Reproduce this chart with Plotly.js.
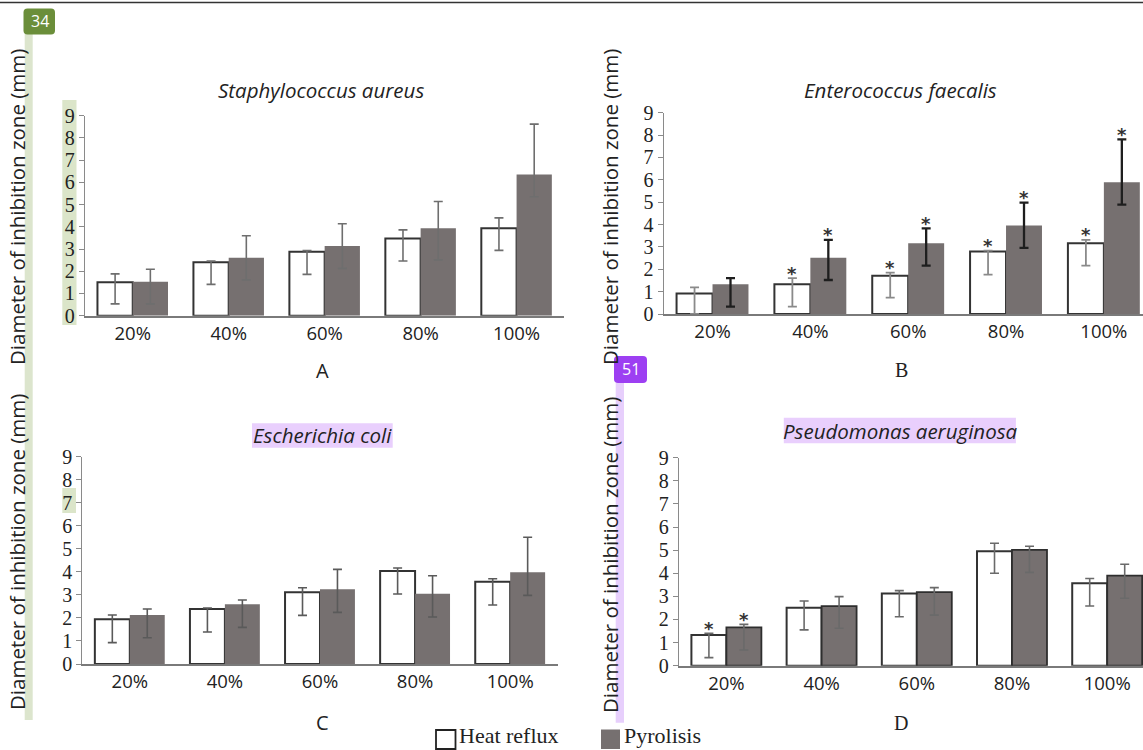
<!DOCTYPE html>
<html>
<head>
<meta charset="utf-8">
<script src="https://cdn.plot.ly/plotly-3.0.1.min.js"></script>
<style>html,body{margin:0;padding:0;background:#fff;}#chart{width:1143px;height:750px;}</style>
</head>
<body>
<div id="chart"></div>
<script>
// ---------- DATA ----------
const categories = ['20%', '40%', '60%', '80%', '100%'];
const seriesNames = ['Heat reflux', 'Pyrolisis'];
const panelTitles = ['Staphylococcus aureus', 'Enterococcus faecalis', 'Escherichia coli', 'Pseudomonas aeruginosa'];
const panelLetters = ['A', 'B', 'C', 'D'];
const yTitle = 'Diameter of inhibition zone (mm)';
const yTickVals = [0, 1, 2, 3, 4, 5, 6, 7, 8, 9];

// A: Staphylococcus aureus
const saHeat = [1.50, 2.40, 2.88, 3.47, 3.93];
const saHeatUp = [0.38, 0.06, 0.05, 0.39, 0.47];
const saHeatLow = [0.97, 0.99, 1.02, 1.01, 0.99];
const saPyro = [1.53, 2.61, 3.14, 3.93, 6.35];
const saPyroUp = [0.56, 0.99, 1.00, 1.21, 2.27];
const saPyroLow = [1.00, 1.00, 1.01, 1.42, 1.00];

// B: Enterococcus faecalis
const efHeat = [0.92, 1.33, 1.71, 2.79, 3.16];
const efHeatUp = [0.27, 0.27, 0.14, 0.04, 0.15];
const efHeatLow = [0.92, 1.00, 0.98, 1.03, 1.00];
const efPyro = [1.33, 2.52, 3.16, 3.96, 5.89];
const efPyroUp = [0.27, 0.79, 0.67, 1.02, 1.92];
const efPyroLow = [1.00, 1.00, 1.00, 1.00, 1.00];
const efHeatStar = [false, true, true, true, true];
const efPyroStar = [false, true, true, true, true];

// C: Escherichia coli
const ecHeat = [1.94, 2.39, 3.11, 4.04, 3.57];
const ecHeatUp = [0.19, 0.04, 0.20, 0.13, 0.13];
const ecHeatLow = [1.01, 1.00, 1.00, 1.00, 1.01];
const ecPyro = [2.13, 2.59, 3.24, 3.05, 3.98];
const ecPyroUp = [0.26, 0.19, 0.87, 0.78, 1.52];
const ecPyroLow = [0.99, 1.00, 1.00, 1.01, 1.00];

// D: Pseudomonas aeruginosa
const paHeat = [1.33, 2.51, 3.12, 4.95, 3.57];
const paHeatUp = [0.07, 0.29, 0.13, 0.35, 0.20];
const paHeatLow = [0.98, 0.96, 1.00, 0.95, 0.99];
const paPyro = [1.66, 2.58, 3.18, 5.01, 3.90];
const paPyroUp = [0.13, 0.41, 0.20, 0.16, 0.49];
const paPyroLow = [0.98, 0.96, 0.99, 0.97, 0.98];
const paHeatStar = [true, false, false, false, false];
const paPyroStar = [true, false, false, false, false];

// ---------- STYLE / LAYOUT ----------
const W = 1143, H = 750;
const px = x => x / W;
const py = y => 1 - y / H;
const BARGAP = 0.265;
const HALF = (1 - BARGAP) / 4;
const GRAY = '#767070';
const OUTLINE = '#333333';

const panels = [
  {xa: 'x', ya: 'y', heat: saHeat, hu: saHeatUp, hl: saHeatLow, pyro: saPyro, pu: saPyroUp, pl: saPyroLow,
   hErr: '#6e6e6e', pErr: '#6e6e6e', hTh: 1.6, pTh: 1.6, pLine: 0, hs: null, ps: null},
  {xa: 'x2', ya: 'y2', heat: efHeat, hu: efHeatUp, hl: efHeatLow, pyro: efPyro, pu: efPyroUp, pl: efPyroLow,
   hErr: '#8a8a8a', pErr: '#1e1e1e', hTh: 1.8, pTh: 2.3, pLine: 0, hs: efHeatStar, ps: efPyroStar},
  {xa: 'x3', ya: 'y3', heat: ecHeat, hu: ecHeatUp, hl: ecHeatLow, pyro: ecPyro, pu: ecPyroUp, pl: ecPyroLow,
   hErr: '#5a5a5a', pErr: '#5a5a5a', hTh: 1.6, pTh: 1.6, pLine: 0, hs: null, ps: null},
  {xa: 'x4', ya: 'y4', heat: paHeat, hu: paHeatUp, hl: paHeatLow, pyro: paPyro, pu: paPyroUp, pl: paPyroLow,
   hErr: '#6a6a6a', pErr: '#6a6a6a', hTh: 1.6, pTh: 1.6, pLine: 1.8, hs: paHeatStar, ps: paPyroStar}
];

const traces = [];
const annotations = [];
const starFont = {family: 'DejaVu Sans', size: 18, color: '#333'};
panels.forEach(p => {
  traces.push({
    type: 'bar', name: seriesNames[0], x: categories, y: p.heat, xaxis: p.xa, yaxis: p.ya,
    marker: {color: '#ffffff', line: {color: OUTLINE, width: 2}},
    error_y: {type: 'data', symmetric: false, array: p.hu, arrayminus: p.hl, color: p.hErr, thickness: p.hTh, width: 4.5},
    hoverinfo: 'skip'
  });
  traces.push({
    type: 'bar', name: seriesNames[1], x: categories, y: p.pyro, xaxis: p.xa, yaxis: p.ya,
    marker: {color: GRAY, line: {color: p.pLine ? '#2e2e2e' : GRAY, width: p.pLine || 0}},
    error_y: {type: 'data', symmetric: false, array: p.pu, arrayminus: p.pl, color: p.pErr, thickness: p.pTh, width: 4.5},
    hoverinfo: 'skip'
  });
  const xr = p.xa, yr = p.ya;
  if (p.hs) p.hs.forEach((s, i) => {
    if (s) annotations.push({xref: xr, yref: yr, x: i - HALF, y: p.heat[i] + p.hu[i], text: '<b>*</b>', showarrow: false,
      yanchor: 'middle', yshift: 5, font: starFont});
  });
  if (p.ps) p.ps.forEach((s, i) => {
    if (s) annotations.push({xref: xr, yref: yr, x: i + HALF, y: p.pyro[i] + p.pu[i], text: '<b>*</b>', showarrow: false,
      yanchor: 'middle', yshift: 5, font: starFont});
  });
});

function xAxis(domain, range, anchor) {
  return {domain: domain, range: range, type: 'category', anchor: anchor, showline: true, linecolor: '#7a7a7a',
    linewidth: 2, ticks: '', showgrid: false, zeroline: false, fixedrange: true,
    tickfont: {family: 'Open Sans', size: 18.5, color: '#222'}};
}
function yAxis(domain, anchor) {
  return {domain: domain, range: [0, 9], anchor: anchor, showline: true, linecolor: '#8a8a8a', linewidth: 1,
    ticks: 'outside', ticklen: 5, tickcolor: '#8a8a8a', tickwidth: 1, tickvals: yTickVals, showgrid: false,
    zeroline: false, fixedrange: true, tickfont: {family: 'Liberation Serif', size: 20, color: '#222'}};
}

// panel titles, letters, y titles
const titlePos = [[321, 90], [900, 90], [322, 435], [900, 431]];
const letterPos = [[322, 370], [901, 370], [322, 722], [901, 723]];
const letterFont = ['Open Sans', 'Liberation Serif', 'Open Sans', 'Liberation Serif'];
const yTitlePos = [[17, 207], [610, 207], [17, 552], [610, 555]];
panelTitles.forEach((t, i) => {
  annotations.push({xref: 'paper', yref: 'paper', x: px(titlePos[i][0]), y: py(titlePos[i][1]), text: '<i>' + t + '</i>',
    showarrow: false, xanchor: 'center', yanchor: 'middle', font: {family: 'Open Sans', size: 20.5, color: '#222'}});
  annotations.push({xref: 'paper', yref: 'paper', x: px(letterPos[i][0]), y: py(letterPos[i][1]), text: panelLetters[i],
    showarrow: false, xanchor: 'center', yanchor: 'middle', font: {family: letterFont[i], size: 20, color: '#222'}});
  annotations.push({xref: 'paper', yref: 'paper', x: px(yTitlePos[i][0]), y: py(yTitlePos[i][1]), text: yTitle,
    textangle: -90, showarrow: false, xanchor: 'center', yanchor: 'middle', font: {family: 'Open Sans', size: 20.5, color: '#222'}});
});

// legend (drawn as shapes + text)
annotations.push({xref: 'paper', yref: 'paper', x: px(457), y: 0, text: seriesNames[0], showarrow: false,
  xanchor: 'left', yanchor: 'bottom', font: {family: 'Liberation Serif', size: 22, color: '#222'}});
annotations.push({xref: 'paper', yref: 'paper', x: px(622), y: 0, text: seriesNames[1], showarrow: false,
  xanchor: 'left', yanchor: 'bottom', font: {family: 'Liberation Serif', size: 22, color: '#222'}});

// badges text
annotations.push({xref: 'paper', yref: 'paper', x: px(39.5), y: py(21.5), text: '34', showarrow: false,
  xanchor: 'center', yanchor: 'middle', font: {family: 'Open Sans', size: 16, color: '#ffffff'}});
annotations.push({xref: 'paper', yref: 'paper', x: px(630.5), y: py(369.5), text: '51', showarrow: false,
  xanchor: 'center', yanchor: 'middle', font: {family: 'Open Sans', size: 16, color: '#ffffff'}});

function rect(x0, y0, x1, y1, fill, layer, line) {
  return {type: 'rect', xref: 'paper', yref: 'paper', x0: px(x0), x1: px(x1), y0: py(y1), y1: py(y0),
    fillcolor: fill, line: line || {width: 0}, layer: layer || 'below'};
}
function rounded(x0, y0, x1, y1, r, fill) {
  const X0 = px(x0), X1 = px(x1), Y0 = py(y1), Y1 = py(y0), rx = r / W, ry = r / H;
  const path = `M ${X0 + rx},${Y0} L ${X1 - rx},${Y0} Q ${X1},${Y0} ${X1},${Y0 + ry} L ${X1},${Y1 - ry} Q ${X1},${Y1} ${X1 - rx},${Y1} L ${X0 + rx},${Y1} Q ${X0},${Y1} ${X0},${Y1 - ry} L ${X0},${Y0 + ry} Q ${X0},${Y0} ${X0 + rx},${Y0} Z`;
  return {type: 'path', xref: 'paper', yref: 'paper', path: path, fillcolor: fill, line: {width: 0}, layer: 'above'};
}

const shapes = [
  // top rule
  {type: 'line', xref: 'paper', yref: 'paper', x0: 0, x1: 1, y0: py(2.5), y1: py(2.5), line: {color: '#333', width: 1.5}},
  // highlight overlays
  rect(24.7, 34, 32.7, 720, '#dce5cd'),
  rect(62.3, 100, 76.5, 325, '#dbe5c9'),
  rect(62.3, 488, 76, 513, '#dbe5c9'),
  rect(615.7, 383, 624, 722.7, '#e7cffc'),
  rect(252, 423.3, 392.7, 447.7, '#e9cffd'),
  rect(783.8, 417.7, 1015.9, 443.3, '#e9cffd'),
  // badges
  rounded(23.5, 8.5, 55, 34.5, 4, '#6b8e3a'),
  rounded(614, 356, 647, 383, 4, '#9d3ff2'),
  // legend keys
  rect(436, 730, 455.5, 749, '#ffffff', 'above', {color: '#222', width: 1.8}),
  rect(601, 729.5, 620, 749, GRAY, 'above')
];

const layout = {
  width: W, height: H, margin: {l: 0, r: 0, t: 0, b: 0}, paper_bgcolor: '#ffffff', plot_bgcolor: 'rgba(0,0,0,0)',
  showlegend: false, barmode: 'group', bargap: BARGAP, bargroupgap: 0,
  xaxis: xAxis([px(84.75), px(563.6)], [-0.5, 4.49], 'y'),
  yaxis: yAxis([py(315.7), py(115.7)], 'x'),
  xaxis2: xAxis([px(663.6), 1], [-0.5, 4.40], 'y2'),
  yaxis2: yAxis([py(314), py(112.7)], 'x2'),
  xaxis3: xAxis([px(82.25), px(558.2)], [-0.5, 4.505], 'y3'),
  yaxis3: yAxis([py(664), py(456.7)], 'x3'),
  xaxis4: xAxis([px(678.8), 1], [-0.5, 4.376], 'y4'),
  yaxis4: yAxis([py(665.7), py(457.7)], 'x4'),
  annotations: annotations,
  shapes: shapes
};

Plotly.newPlot('chart', traces, layout, {staticPlot: true, displayModeBar: false});
</script>
</body>
</html>
